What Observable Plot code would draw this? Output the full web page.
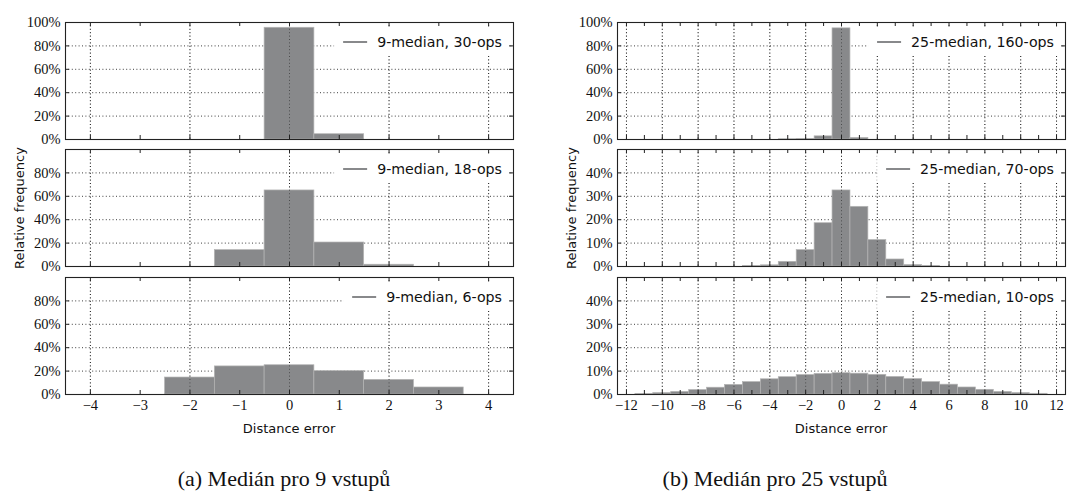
<!DOCTYPE html>
<html>
<head>
<meta charset="utf-8">
<script src="https://cdn.jsdelivr.net/npm/d3@7"></script>
<script src="https://cdn.jsdelivr.net/npm/@observablehq/plot@0.6"></script>
<style>
  html, body { margin: 0; padding: 0; background: #fff; }
  #fig { position: relative; width: 1090px; height: 495px; overflow: hidden; background: #fff; }
  .abs { position: absolute; }
  .ylab { font-family: "DejaVu Sans", sans-serif; font-size: 13px; color: #111; white-space: nowrap; transform: translate(-50%, -50%) rotate(-90deg); }
  .xlab { font-family: "DejaVu Sans", sans-serif; font-size: 13px; color: #111; white-space: nowrap; transform: translate(-50%, -50%); }
  .cap { font-family: "Liberation Serif", serif; font-size: 22px; color: #111; white-space: nowrap; transform: translate(-50%, -50%); }
  .leg { background: #fff; display: flex; align-items: center; height: 27px; padding: 0 6px 0 9px; transform: translateX(-100%); font-family: "DejaVu Sans", sans-serif; font-size: 14.2px; color: #111; white-space: nowrap; }
  .leg .ln { display: inline-block; width: 24px; height: 2px; background: #88898b; margin-right: 10px; }
</style>
</head>
<body>
<div id="fig"></div>
<script>
// ---------- data ----------
// left column: 9-input median, bins centered on integer distance errors
const l30_bins = [0, 1];
const l30_freq = [0.955, 0.045];
const l18_bins = [-1, 0, 1, 2];
const l18_freq = [0.14, 0.65, 0.205, 0.015];
const l6_bins = [-2, -1, 0, 1, 2, 3];
const l6_freq = [0.145, 0.24, 0.25, 0.20, 0.125, 0.06];
// right column: 25-input median
const r160_bins = [-3, -2, -1, 0, 1];
const r160_freq = [0.002, 0.005, 0.027, 0.95, 0.013];
const r70_bins = [-5, -4, -3, -2, -1, 0, 1, 2, 3, 4, 5];
const r70_freq = [0.002, 0.005, 0.02, 0.07, 0.185, 0.325, 0.255, 0.113, 0.03, 0.006, 0.002];
const r10_bins = [-11, -10, -9, -8, -7, -6, -5, -4, -3, -2, -1, 0, 1, 2, 3, 4, 5, 6, 7, 8, 9, 10, 11];
const r10_freq = [0.002, 0.006, 0.011, 0.019, 0.029, 0.041, 0.053, 0.065, 0.074, 0.083, 0.088, 0.091,
                  0.089, 0.084, 0.075, 0.066, 0.053, 0.042, 0.030, 0.020, 0.011, 0.006, 0.003];

const legendLabels = ["9-median, 30-ops", "9-median, 18-ops", "9-median, 6-ops",
                      "25-median, 160-ops", "25-median, 70-ops", "25-median, 10-ops"];

// ticks
const leftXTicks = [-4, -3, -2, -1, 0, 1, 2, 3, 4];
const leftXGrid = [-4, -2, 0, 2, 4];
const leftXLabels = [-4, -3, -2, -1, 0, 1, 2, 3, 4];
const rightXTicks = d3.range(-12, 13, 1);
const rightXGrid = [-12, -10, -8, -6, -4, -2, 0, 2, 4, 6, 8, 10, 12];
const rightXLabels = [-12, -10, -8, -6, -4, -2, 0, 2, 4, 6, 8, 10, 12];
const yTicks100 = [0, 0.2, 0.4, 0.6, 0.8, 1.0];
const yLabels100 = [0, 0.2, 0.4, 0.6, 0.8, 1.0];
const yLabels80 = [0, 0.2, 0.4, 0.6, 0.8];
const yTicks50 = [0, 0.1, 0.2, 0.3, 0.4, 0.5];
const yLabels40 = [0, 0.1, 0.2, 0.3, 0.4];

const axisTitleX = "Distance error";
const axisTitleY = "Relative frequency";
const captions = ["(a) Medián pro 9 vstupů", "(b) Medián pro 25 vstupů"];

// ---------- layout ----------
const W = 448, H = 117, ML = 52, MR = 6, MT = 6;
const colLeft = [65, 617];
const rowTop = [22, 149, 277];

const pct = d => `${Math.round(d * 100)}%`;
const num = d => d < 0 ? "\u2212" + (-d) : String(d);

function panel({bins, freq, xDomain, yMax, yTicks, yLabels, xTicks, xGrid, xLabels, bottom}) {
  const data = bins.map((b, i) => ({b, f: freq[i]}));
  const MB = bottom ? 30 : 6;
  const dots = {stroke: "#000", strokeOpacity: 0.85, strokeWidth: 0.9, strokeDasharray: "1,2.4"};
  const marks = [
    Plot.gridY(yTicks, dots),
    Plot.gridX(xGrid, dots),
    Plot.rectY(data, {x1: d => d.b - 0.5, x2: d => d.b + 0.5, y: "f", fill: "#88898b", stroke: "#b4b4b4", strokeWidth: 0.7}),
    Plot.gridX(xGrid, {...dots, strokeOpacity: 0.5}),
    Plot.ruleX(xTicks, {x: d => d, insetTop: H - 4, stroke: "#222"}),
    Plot.ruleX(xTicks, {x: d => d, insetBottom: H - 4, stroke: "#222"}),
    Plot.ruleY(yTicks, {y: d => d, insetRight: W - 4, stroke: "#222"}),
    Plot.ruleY(yTicks, {y: d => d, insetLeft: W - 4, stroke: "#222"}),
    Plot.axisY(yLabels, {tickSize: 0, tickPadding: 5, tickFormat: pct, label: null}),
    Plot.frame({stroke: "#222", strokeWidth: 1.1})
  ];
  if (bottom) marks.push(Plot.axisX(xLabels, {tickSize: 0, tickPadding: 5, tickFormat: num, label: null}));
  return Plot.plot({
    width: W + ML + MR, height: H + MT + MB,
    marginLeft: ML, marginRight: MR, marginTop: MT, marginBottom: MB,
    x: bottom ? {domain: xDomain} : {domain: xDomain, axis: null},
    y: {domain: [0, yMax]},
    style: {fontFamily: "'Liberation Serif', serif", fontSize: "14.5px", color: "#111", background: "transparent", overflow: "visible"},
    marks
  });
}

const fig = document.getElementById("fig");
function place(el, left, top) {
  el.classList.add("abs");
  el.style.left = left + "px";
  el.style.top = top + "px";
  fig.appendChild(el);
  return el;
}
function div(cls, text, left, top) {
  const d = document.createElement("div");
  d.className = cls;
  d.textContent = text;
  return place(d, left, top);
}

const specs = [
  {col: 0, row: 0, bins: l30_bins, freq: l30_freq, yMax: 1, yTicks: yTicks100, yLabels: yLabels100},
  {col: 0, row: 1, bins: l18_bins, freq: l18_freq, yMax: 1, yTicks: yTicks100, yLabels: yLabels80},
  {col: 0, row: 2, bins: l6_bins, freq: l6_freq, yMax: 1, yTicks: yTicks100, yLabels: yLabels80},
  {col: 1, row: 0, bins: r160_bins, freq: r160_freq, yMax: 1, yTicks: yTicks100, yLabels: yLabels100},
  {col: 1, row: 1, bins: r70_bins, freq: r70_freq, yMax: 0.5, yTicks: yTicks50, yLabels: yLabels40},
  {col: 1, row: 2, bins: r10_bins, freq: r10_freq, yMax: 0.5, yTicks: yTicks50, yLabels: yLabels40}
];

specs.forEach((s, i) => {
  const left = s.col === 0;
  const svg = panel({
    ...s,
    xDomain: left ? [-4.5, 4.5] : [-12.5, 12.5],
    xTicks: left ? leftXTicks : rightXTicks,
    xGrid: left ? leftXGrid : rightXGrid,
    xLabels: left ? leftXLabels : rightXLabels,
    bottom: s.row === 2
  });
  place(svg, colLeft[s.col] - ML, rowTop[s.row] - MT);
  // legend box (white, covers grid)
  const lg = document.createElement("div");
  lg.className = "leg";
  const ln = document.createElement("span"); ln.className = "ln";
  const tx = document.createElement("span"); tx.textContent = legendLabels[i];
  lg.appendChild(ln); lg.appendChild(tx);
  place(lg, colLeft[s.col] + W - 5, rowTop[s.row] + 6);
});

div("ylab", axisTitleY, 19, 208);
div("ylab", axisTitleY, 571, 208);
div("xlab", axisTitleX, 289, 428);
div("xlab", axisTitleX, 841, 428);
div("cap", captions[0], 284, 479);
div("cap", captions[1], 775, 479);
</script>
</body>
</html>
